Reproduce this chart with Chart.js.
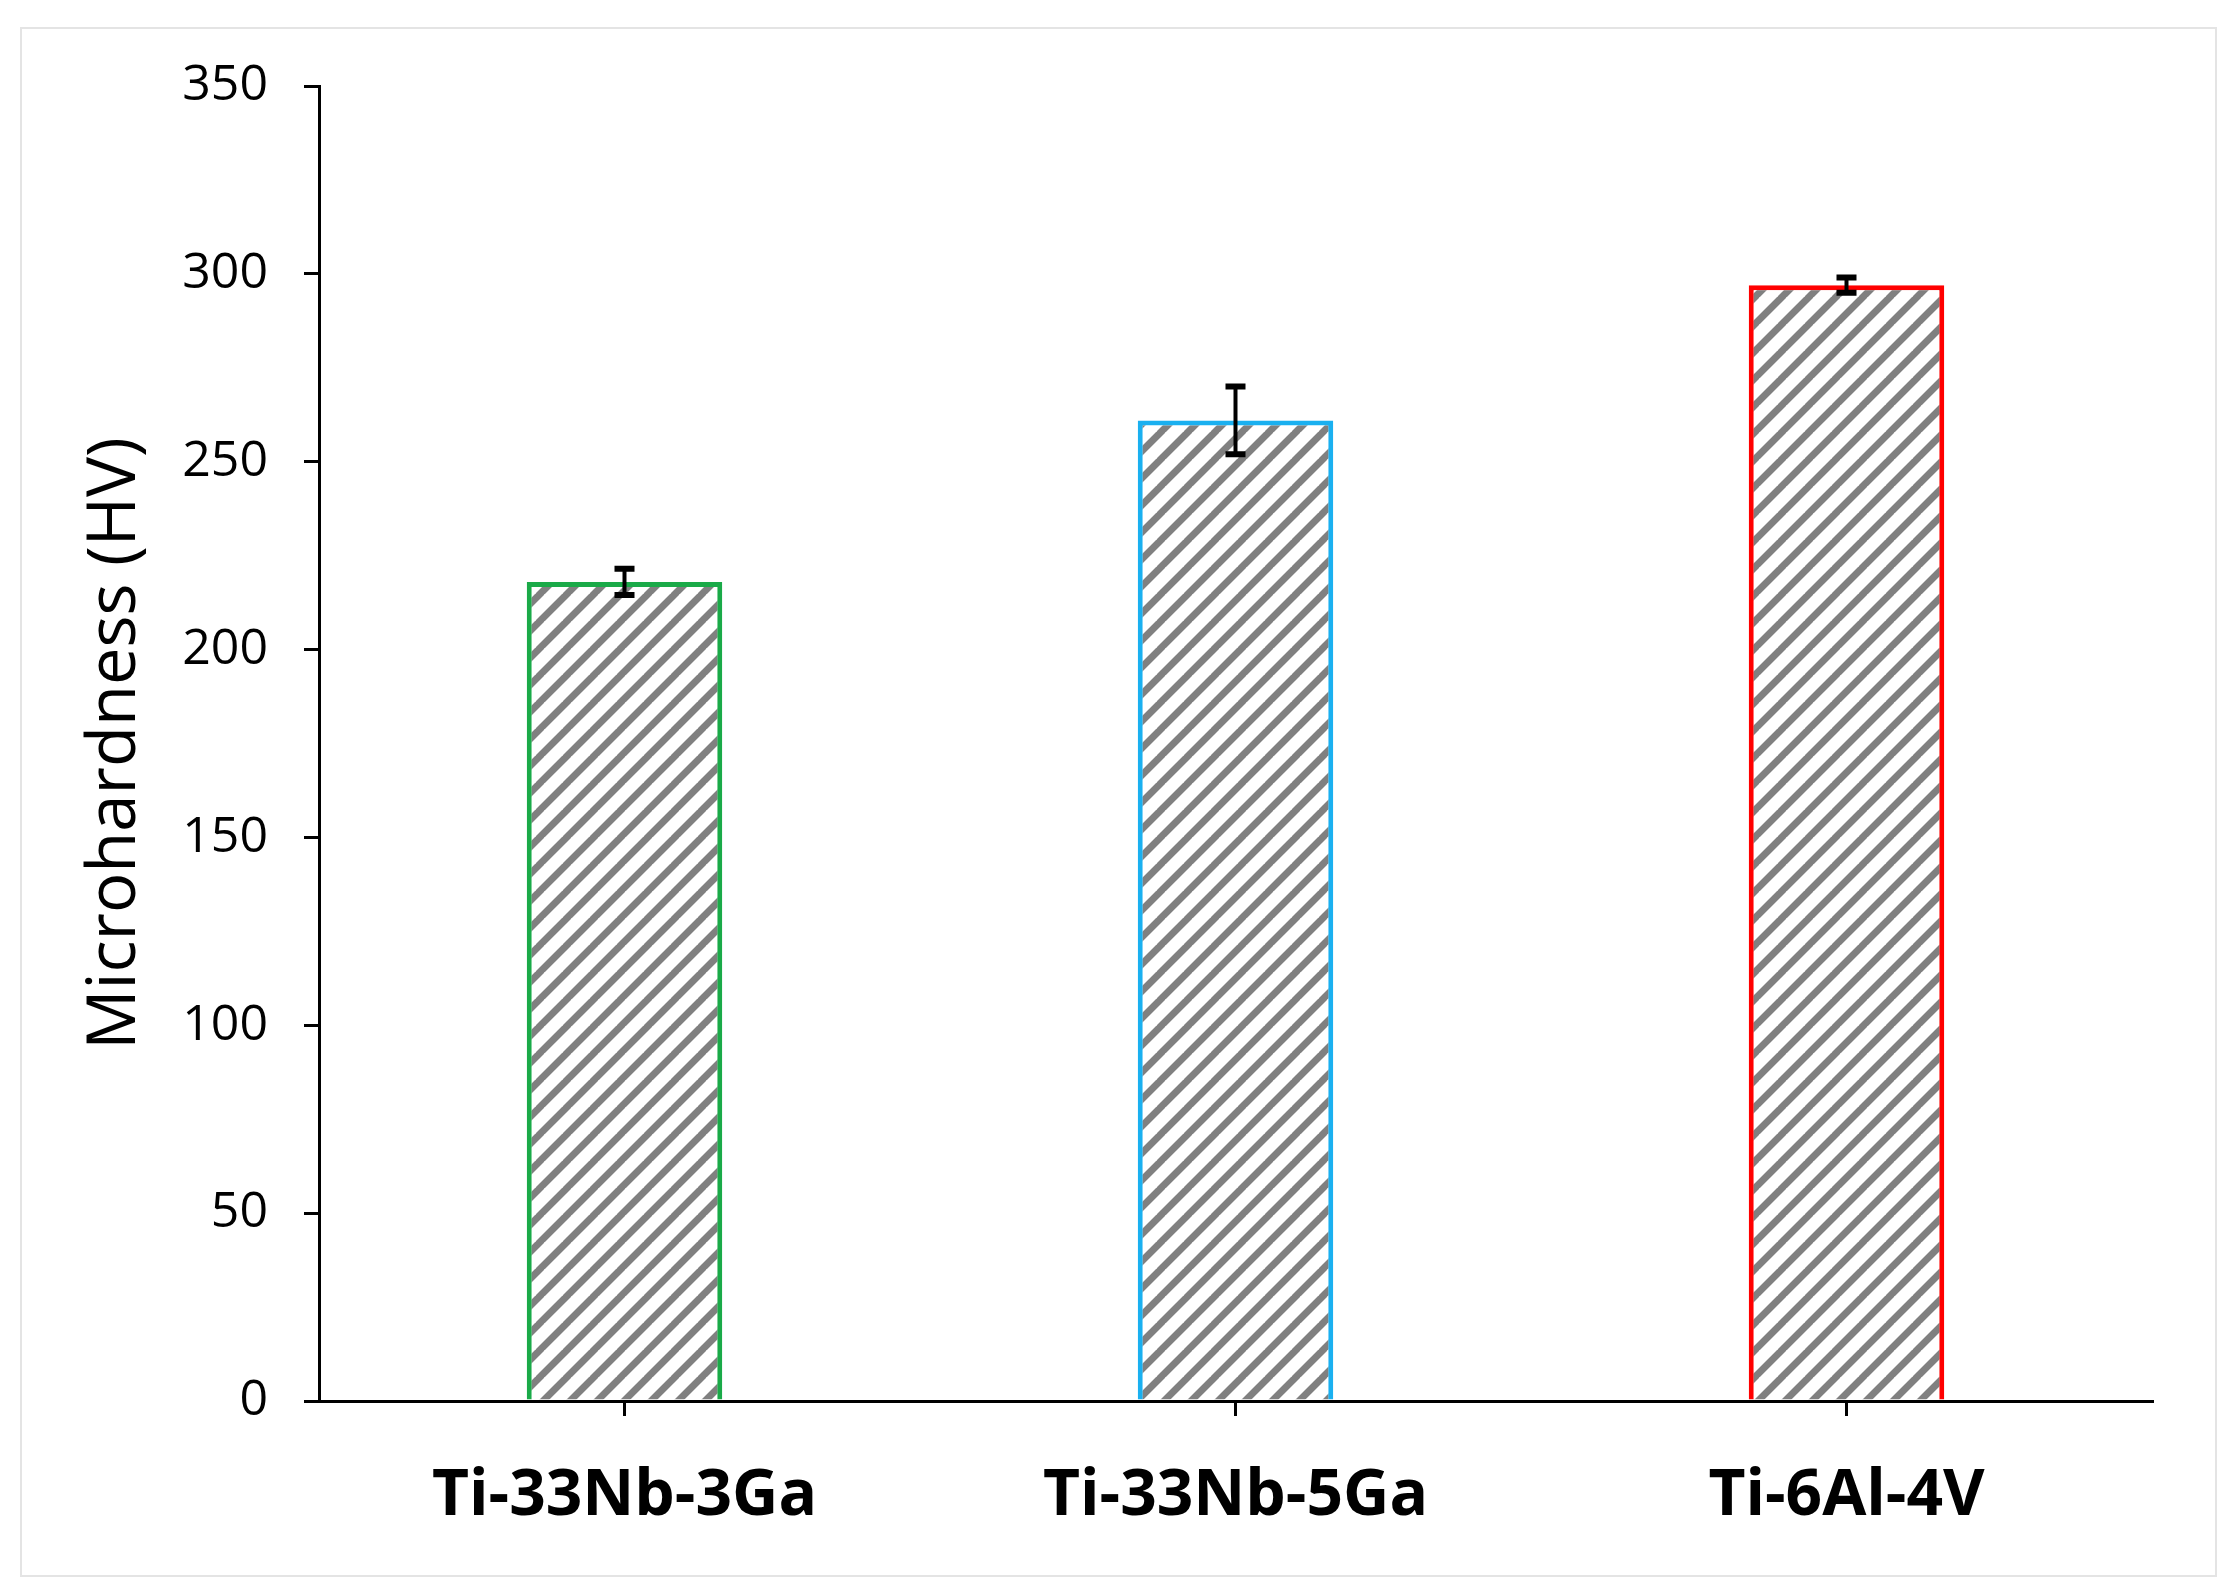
<!DOCTYPE html>
<html>
<head>
<meta charset="utf-8">
<script src="https://cdn.jsdelivr.net/npm/chart.js@4.4.0/dist/chart.umd.min.js"></script>
<style>
  html, body { margin: 0; padding: 0; background: #fff; }
  #frame { position: absolute; left: 20px; top: 27px; width: 2193px; height: 1546px; border: 2px solid #e4e4e4; }
  #wrap { position: absolute; left: 0; top: 0; width: 2235px; height: 1593px; }
</style>
</head>
<body>
<div id="frame"></div>
<div id="wrap"><canvas id="chartHardness"></canvas></div>
<script>
const categories = ['Ti-33Nb-3Ga', 'Ti-33Nb-5Ga', 'Ti-6Al-4V'];
const hardness = [218, 261, 297];
const hardnessErr = [3.5, 9, 2];
const borderColors = ['#1aaa48', '#1ab0f0', '#ff0000'];
const yTicks = [0, 50, 100, 150, 200, 250, 300, 350];

// pola arsir diagonal abu-abu
function makeHatch() {
    const size = 27;
    const c = document.createElement('canvas');
    c.width = size; c.height = size;
    const g = c.getContext('2d');
    g.fillStyle = '#fff';
    g.fillRect(0, 0, size, size);
    g.strokeStyle = '#808080';
    g.lineWidth = 7;
    g.beginPath();
    for (let k = -1; k <= 1; k++) {
        g.moveTo(k * size - 2, size + 2);
        g.lineTo(k * size + size + 2, -2);
    }
    g.stroke();
    return g.createPattern(c, 'repeat');
}

const errorBars = {
    id: 'errorBars',
    afterDatasetsDraw(chart) {
        const ctx = chart.ctx;
        const meta = chart.getDatasetMeta(0);
        const y = chart.scales.y;
        ctx.save();
        ctx.strokeStyle = '#000';
        ctx.lineWidth = 4;
        meta.data.forEach((bar, i) => {
            const top = y.getPixelForValue(hardness[i] + hardnessErr[i]);
            const bot = y.getPixelForValue(hardness[i] - hardnessErr[i]);
            const x = bar.x;
            ctx.beginPath();
            ctx.moveTo(x, top); ctx.lineTo(x, bot);
            ctx.stroke();
            ctx.lineWidth = 6;
            ctx.beginPath();
            ctx.moveTo(x - 10, top); ctx.lineTo(x + 10, top);
            ctx.moveTo(x - 10, bot); ctx.lineTo(x + 10, bot);
            ctx.stroke();
            ctx.lineWidth = 4;
        });
        ctx.restore();
    }
};

const hatch = makeHatch();

new Chart(document.getElementById('chartHardness'), {
    type: 'bar',
    data: {
        labels: categories,
        datasets: [{
            data: hardness,
            backgroundColor: hatch,
            borderColor: borderColors,
            borderWidth: 5,
            borderSkipped: 'bottom',
            categoryPercentage: 1,
            barPercentage: 0.32
        }]
    },
    options: {
        responsive: true,
        maintainAspectRatio: false,
        devicePixelRatio: 1,
        animation: false,
        layout: { padding: { top: 86, right: 83, left: 76, bottom: 0 } },
        plugins: { legend: { display: false }, tooltip: { enabled: false } },
        scales: {
            y: {
                min: 0, max: 350,
                afterBuildTicks: s => { s.ticks = yTicks.map(v => ({ value: v })); },
                afterFit: s => { s.width = 243; },
                ticks: { color: '#000', padding: 36, font: { family: 'Open Sans', size: 50 } },
                grid: { drawOnChartArea: false, color: '#000', tickLength: 15, lineWidth: 3 },
                border: { color: '#000', width: 3 },
                title: { display: true, text: 'Microhardness (HV)', color: '#000', padding: 0,
                         font: { family: 'Open Sans', size: 67 } }
            },
            x: {
                offset: true,
                afterFit: s => { s.height = 192; },
                ticks: { color: '#000', padding: 42, font: { family: 'Open Sans', size: 64, weight: 'bold' } },
                grid: { offset: false, drawOnChartArea: false, color: '#000', tickLength: 15, lineWidth: 3 },
                border: { color: '#000', width: 3 }
            }
        }
    },
    plugins: [errorBars]
});
</script>
</body>
</html>
